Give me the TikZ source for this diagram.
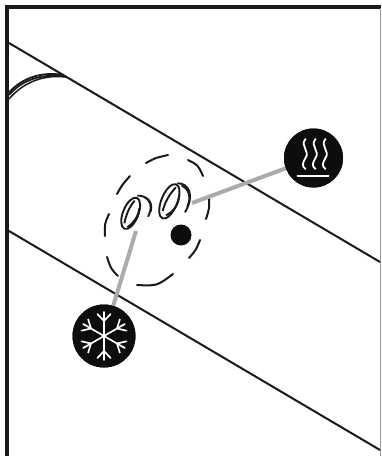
\documentclass[tikz,border=0pt]{standalone}
\tikzset{
 ln/.style={line width=2pt,black!90},
 dsh/.style={line width=2pt,black!90,line cap=round},
 grey/.style={line width=4pt,black!33},
 wht/.style={line width=1.7pt,white,line cap=round},
 scr/.style={line width=1.9pt,black!90},
 dotn/.style={circle,fill=black!95,minimum size=#1,inner sep=0pt},
}
\begin{document}
\begin{tikzpicture}[x=1pt,y=-1pt]
\useasboundingbox (0,0) rectangle (381,456);
\fill[white] (0,0) rectangle (381,456);
% frame
\draw[line width=4pt,black!90] (7,456) -- (7,6.5) -- (381,6.5);
\draw[line width=1.2pt,black!40] (380.3,8) -- (380.3,456);
% tube
\coordinate (t1) at (9,43); \coordinate (t2) at (380,262);
\coordinate (b1) at (9,231); \coordinate (b2) at (380,450);
\draw[ln] (t1) -- (t2);
\draw[ln] (b1) -- (b2);
% cable
\draw[line width=1.8pt,black!90] (9,92.5) .. controls (21,79) and (40,71) .. (64,75);
\draw[line width=1.8pt,black!90] (9,95) .. controls (21,81) and (40,73) .. (65,76.5);
\draw[line width=1.5pt,black!90] (9,99) .. controls (21,85) and (40,74) .. (66,77);
% dashed ellipse arcs
\draw[dsh] (146,163) .. controls (155,158) .. (168,155);
\draw[dsh] (188,160) .. controls (198,165) .. (203,176);
\draw[dsh] (209,197) .. controls (209.5,208) .. (206,219);
\draw[dsh] (200,240) .. controls (196,250) .. (189,258);
\draw[dsh] (173,274) .. controls (157,286) .. (137,285);
\draw[dsh] (118,276) .. controls (111,269) .. (107,257);
\draw[dsh] (105,236) .. controls (104.5,224) .. (109,214);
\draw[dsh] (117,194) .. controls (122,185) .. (130,176);
% connectors
\node[dotn=63pt] (cold) at (104,336) {};
\node[dotn=59pt] (hot) at (313.5,158) {};
\node[dotn=21pt] (dot) at (181,235) {};
\coordinate (s1) at (136,231);
\coordinate (s2) at (192,203);
\draw[grey] (s1) -- (cold);
\draw[grey] (s2) -- (hot);
\node[dotn=63pt] at (cold) {};
\node[dotn=59pt] at (hot) {};
% screws (drawn in 3x zoom coordinates)
\begin{scope}[x=.33333pt,y=-.33333pt,shift={(270,420)}]
 \draw[scr,rotate around={-22:(122,220)}] (122,220) ellipse (23 and 50);
 \draw[scr] (103,250) .. controls (108,225) and (118,200) .. (134,182);
 \draw[scr] (112,262) .. controls (130,250) and (145,230) .. (148,205);
 \draw[scr] (142,167) .. controls (170,165) and (196,190) .. (174,230);
 \draw[scr] (165,172) .. controls (180,178) and (188,195) .. (182,215);
 \draw[scr,rotate around={-22:(238,184)}] (238,184) ellipse (24 and 55);
 \draw[scr] (218,213) .. controls (225,185) and (240,160) .. (258,142);
 \draw[scr] (228,226) .. controls (250,215) and (266,195) .. (268,165);
 \draw[scr] (262,130) .. controls (295,128) and (316,165) .. (285,217);
 \draw[scr] (275,136) .. controls (294,145) and (306,170) .. (292,200);
\end{scope}
% snowflake
\begin{scope}[shift={(cold)}]
 \foreach \r in {0,60,120}{
 \begin{scope}[rotate=\r]
  \draw[wht] (0,-24) -- (0,24);
  \draw[wht] (-6.5,-22) -- (0,-15) -- (6.5,-22);
  \draw[wht] (-6.5,22) -- (0,15) -- (6.5,22);
 \end{scope}}
\end{scope}
% heat
\begin{scope}[shift={(hot)}]
 \draw[line width=2pt,white,line cap=round] (-16,18) -- (15,18);
 \foreach \x in {-8,2,12}{
 \draw[line width=1.8pt,white,line cap=round] (\x,-19) .. controls (\x-6,-12) and (\x+5,-7) .. (\x,0) .. controls (\x-3,5) and (\x-4,8) .. (\x,11);}
\end{scope}
\end{tikzpicture}
\end{document}
